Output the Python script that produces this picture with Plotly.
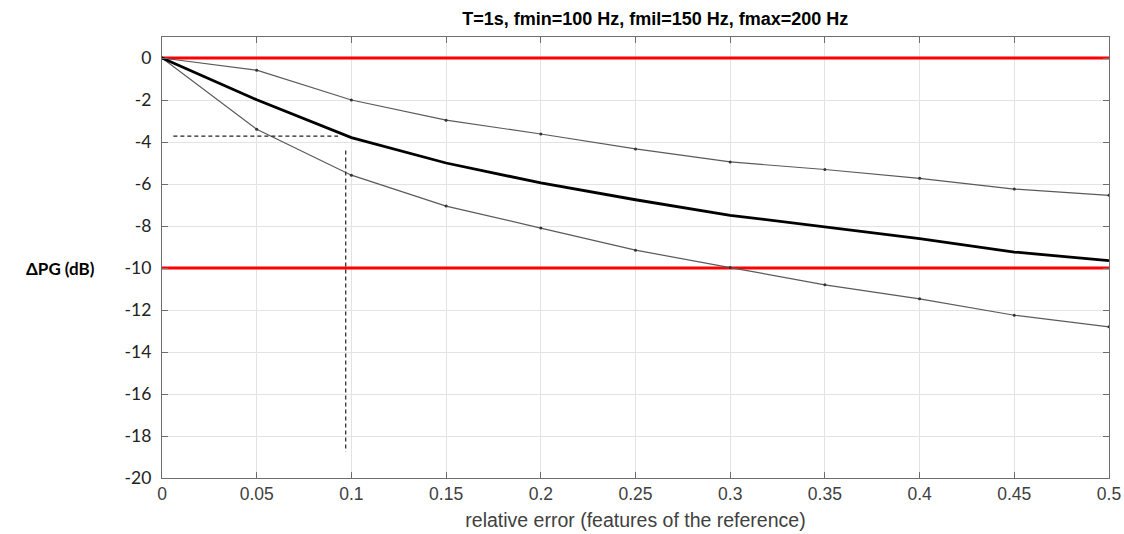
import plotly.graph_objects as go

x = [0, 0.05, 0.1, 0.15, 0.2, 0.25, 0.3, 0.35, 0.4, 0.45, 0.5]
upper = [0, -0.58, -2.0, -2.96, -3.62, -4.33, -4.95, -5.31, -5.73, -6.24, -6.54]
middle = [0, -1.99, -3.79, -5.0, -5.95, -6.75, -7.49, -8.05, -8.6, -9.24, -9.65]
lower = [0, -3.39, -5.58, -7.05, -8.1, -9.15, -9.98, -10.8, -11.47, -12.25, -12.8]
limits = [0, -10]
dash_h_x = [0.006, 0.093]
dash_h_y = [-3.72, -3.72]
dash_v_x = [0.097, 0.097]
dash_v_y = [-4.4, -18.75]
xticks = [0, 0.05, 0.1, 0.15, 0.2, 0.25, 0.3, 0.35, 0.4, 0.45, 0.5]
xticklabels = ["0", "0.05", "0.1", "0.15", "0.2", "0.25", "0.3", "0.35", "0.4", "0.45", "0.5"]
yticks = list(range(0, -21, -2))
yticklabels = [str(v) for v in yticks]

fig = go.Figure()
for lv in limits:
    fig.add_trace(go.Scatter(x=[0, 0.5], y=[lv, lv], mode="lines",
                             line=dict(color="#ff0000", width=3), showlegend=False))
fig.add_trace(go.Scatter(x=x, y=upper, mode="lines+markers",
                         line=dict(color="#5a5a5a", width=1.2),
                         marker=dict(size=3, color="#333333"), showlegend=False))
fig.add_trace(go.Scatter(x=x, y=lower, mode="lines+markers",
                         line=dict(color="#5a5a5a", width=1.2),
                         marker=dict(size=3, color="#333333"), showlegend=False))
fig.add_trace(go.Scatter(x=x, y=middle, mode="lines",
                         line=dict(color="#000000", width=2.8), showlegend=False))
fig.add_trace(go.Scatter(x=dash_h_x, y=dash_h_y, mode="lines",
                         line=dict(color="#222222", width=1.2, dash="4px,3px"), showlegend=False))
fig.add_trace(go.Scatter(x=dash_v_x, y=dash_v_y, mode="lines",
                         line=dict(color="#222222", width=1.2, dash="4px,3px"), showlegend=False))

axis_common = dict(showline=True, linecolor="#6e6e6e", linewidth=1.2, mirror="ticks",
                   ticks="inside", ticklen=6, tickcolor="#6e6e6e",
                   showgrid=True, gridcolor="#e3e3e3", gridwidth=1, zeroline=False,
                   automargin=False)

fig.update_layout(
    width=1124, height=534,
    margin=dict(l=162, r=15, t=37, b=56),
    plot_bgcolor="white", paper_bgcolor="white",
    title=dict(text="<b>T=1s, fmin=100 Hz, fmil=150 Hz, fmax=200 Hz</b>",
               x=0.583, xanchor="center", y=0.965, yanchor="middle",
               font=dict(family="Liberation Sans Narrow, Arial Narrow, Liberation Sans", size=18, color="#000000")),
    xaxis=dict(range=[0, 0.5], tickvals=xticks, ticktext=xticklabels,
               tickfont=dict(family="Liberation Sans, Arial", size=17.5, color="#404040"),
               title=dict(text="relative error (features of the reference)", standoff=10,
                          font=dict(family="Liberation Sans, Arial", size=19.5, color="#404040")),
               **axis_common),
    yaxis=dict(range=[-20, 1], tickvals=yticks, ticktext=yticklabels,
               tickfont=dict(family="Lato, Liberation Sans", size=17.5, color="#222222"),
               ticklabelstandoff=6,
               **axis_common),
)
fig.add_annotation(text="<b>ΔPG (dB)</b>", xref="paper", yref="y", x=-0.069, y=-10,
                   xanchor="right", yanchor="middle", showarrow=False,
                   font=dict(family="Lato, Noto Sans", size=17, color="#000000"))

fig.write_html("out.html")
